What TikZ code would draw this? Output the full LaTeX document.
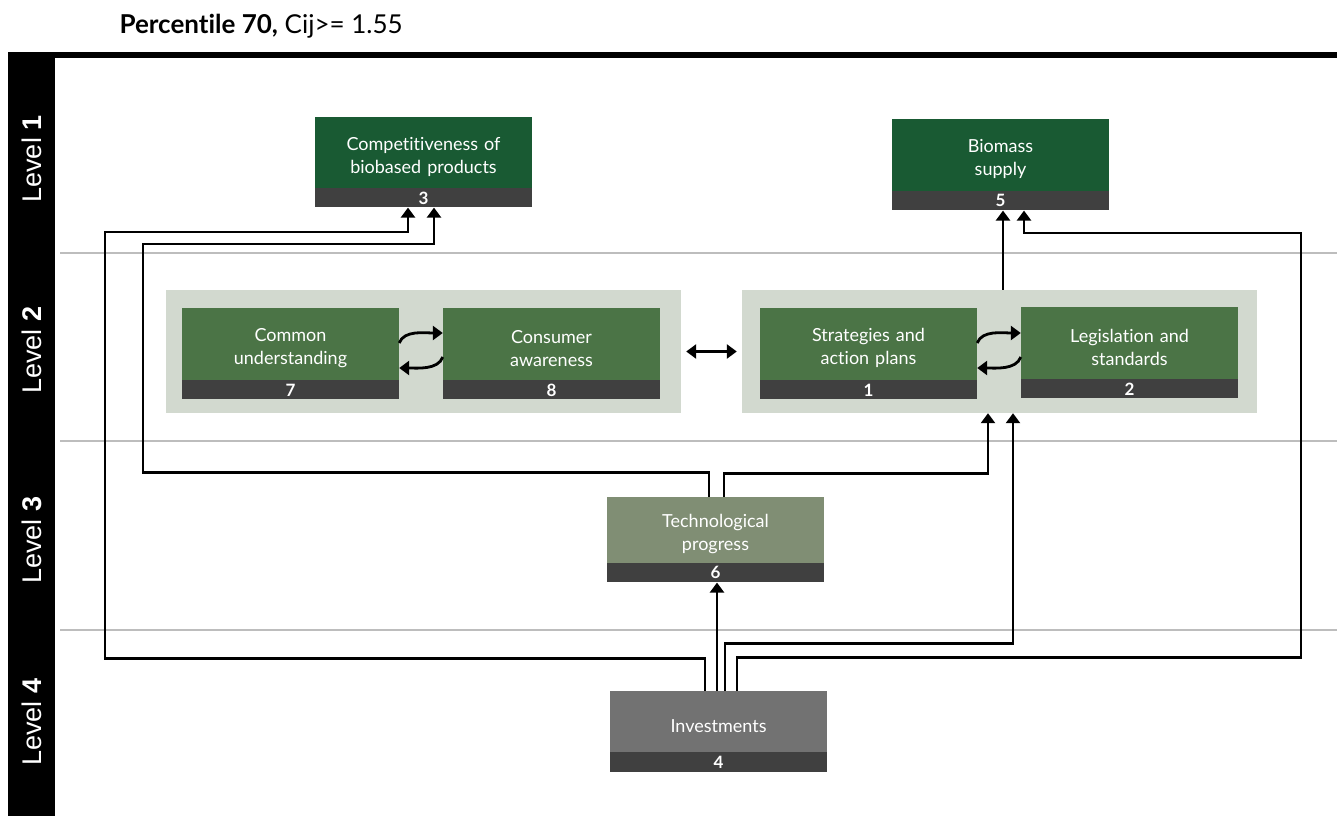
\documentclass[tikz,border=0pt]{standalone}
\usepackage{fontspec}
\setmainfont{Lato}[Ligatures=NoCommon]
\newfontfamily\levelfont{Liberation Sans}
\usetikzlibrary{positioning, arrows.meta}

\definecolor{darkgreen}{HTML}{195A33}
\definecolor{midgreen}{HTML}{4B7446}
\definecolor{techgreen}{HTML}{808E74}
\definecolor{investgray}{HTML}{727272}
\definecolor{stripgray}{HTML}{404040}
\definecolor{groupbg}{HTML}{D2D9CF}
\definecolor{levelline}{HTML}{BDBDBD}

\tikzset{> = {Triangle[length=10pt, width=14pt]}}
\tikzset{
  factor/.style={rectangle, fill=midgreen, text=white, minimum width=217pt, minimum height=72pt, text width=210pt, text height=22pt, align=center, inner sep=0pt, font=\fontsize{18}{23}\selectfont},
  numbar/.style={rectangle, fill=stripgray, text=white, minimum width=217pt, minimum height=19pt, inner sep=0pt, font=\fontsize{17}{17}\selectfont\bfseries},
  group/.style={rectangle, fill=groupbg, minimum width=515pt, minimum height=123pt},
  link/.style={->, line width=2.8pt},
  levellabel/.style={rotate=90, text=white, font=\levelfont\fontsize{27}{27}\selectfont}
}

\begin{document}
\begin{tikzpicture}[x=1pt, y=-1pt]
\useasboundingbox (0,0) rectangle (1337,816);

% frame and levels
\node[anchor=west, font=\fontsize{26}{26}\selectfont] (title) at (116,26) {\textbf{Percentile 70,} Cij>= 1.55};
\fill (8,52) rectangle (55,816);
\fill (8,52) rectangle (1337,58);
\foreach \y in {253, 441, 630}
  \draw[levelline, line width=1.5pt] (60,\y) -- (1337,\y);
\node[levellabel] (lvl1) at (32,159) {Level \textbf{1}};
\node[levellabel] (lvl2) at (32,350) {Level \textbf{2}};
\node[levellabel] (lvl3) at (32,540) {Level \textbf{3}};
\node[levellabel] (lvl4) at (32,722) {Level \textbf{4}};

% groups
\node[group] (grpL) at (423.5,351.5) {};
\node[group] (grpR) at (999.5,351.5) {};

% level 1
\node[factor, fill=darkgreen, minimum height=71pt] (compet) at (423.5,152.5) {Competitiveness of\\biobased products};
\node[numbar, below=0pt of compet] (compet-n) {3};
\node[factor, fill=darkgreen] (biomass) at (1000.5,155) {Biomass\\supply};
\node[numbar, below=0pt of biomass] (biomass-n) {5};

% level 2
\node[factor] (common) at (290.5,344) {Common\\understanding};
\node[numbar, below=0pt of common] (common-n) {7};
\node[factor] (consumer) at (551.5,344) {Consumer\\awareness};
\node[numbar, below=0pt of consumer] (consumer-n) {8};
\node[factor] (strat) at (868.5,344) {Strategies and\\action plans};
\node[numbar, below=0pt of strat] (strat-n) {1};
\node[factor] (legis) at (1129.5,343) {Legislation and\\standards};
\node[numbar, below=0pt of legis] (legis-n) {2};

% level 3 and 4
\node[factor, fill=techgreen, minimum height=66pt] (tech) at (715.5,530) {Technological\\progress};
\node[numbar, below=0pt of tech] (tech-n) {6};
\node[factor, fill=investgray, minimum height=61pt] (invest) at (718.5,721.5) {Investments};
\node[numbar, minimum height=20pt, below=0pt of invest] (invest-n) {4};

% edges
\draw[link] ([yshift=1pt]common.east) .. controls +(70:14pt) and +(180:18pt) .. ([yshift=11pt]consumer.west);
\draw[link] ([yshift=-13pt]consumer.west) .. controls +(250:14pt) and +(0:18pt) .. ([yshift=-24pt]common.east);
\draw[link] ([yshift=1pt]strat.east) .. controls +(70:14pt) and +(180:18pt) .. ([yshift=10pt]legis.west);
\draw[link] ([yshift=-14pt]legis.west) .. controls +(250:14pt) and +(0:18pt) .. ([yshift=-24pt]strat.east);
\draw[link, <->] ([xshift=5pt]grpL.east) -- ([xshift=-5pt]grpR.west);
\draw[link] ([xshift=3.5pt]grpR.north) -- ([xshift=2.5pt]biomass-n.south);
\draw[link] ([xshift=-6.5pt]tech.north) -- ++(0,-24) -| (143,244) -| ([xshift=10.5pt]compet-n.south);
\draw[link] ([xshift=8.5pt]tech.north) -- ++(0,-23) -| ([xshift=-11.5pt]grpR.south);
\draw[link] ([xshift=-13.5pt]invest.north) -- ++(0,-32) -| (105,232) -| ([xshift=-15.5pt]compet-n.south);
\draw[link] ([xshift=-1.5pt]invest.north) -- ([xshift=1.5pt]tech-n.south);
\draw[link] ([xshift=6.5pt]invest.north) -- ++(0,-47) -| ([xshift=13.5pt]grpR.south);
\draw[link] ([xshift=18.5pt]invest.north) -- ++(0,-33) -| (1301,233) -| ([xshift=23.5pt]biomass-n.south);

\end{tikzpicture}
\end{document}
